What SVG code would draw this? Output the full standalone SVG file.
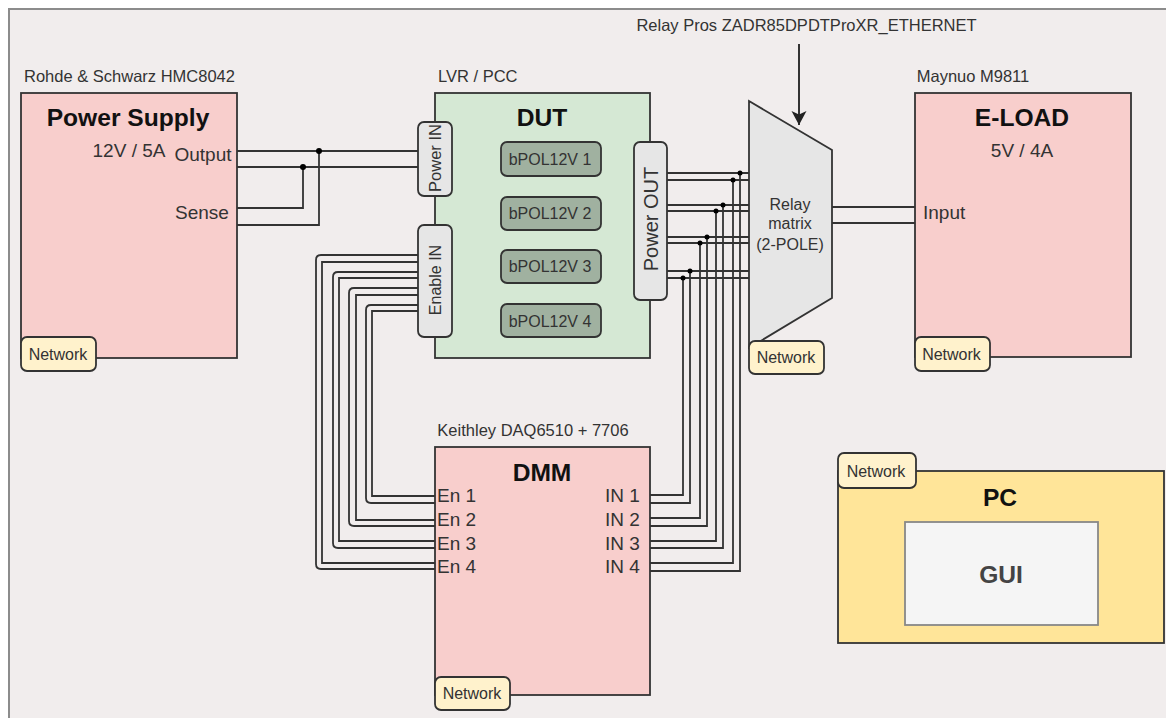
<svg xmlns="http://www.w3.org/2000/svg" width="1166" height="718" viewBox="0 0 1166 718">
<style>
text{font-family:"Liberation Sans",Arial,sans-serif;fill:#333;text-anchor:middle}
.box{stroke:#333;stroke-width:1.8}
.pink{fill:#f8cecc}
.port{fill:#e6e6e6;stroke:#333;stroke-width:1.8}
.net{fill:#fff2cc;stroke:#333;stroke-width:1.8}
.pol{fill:#a0b1a0;stroke:#333;stroke-width:1.8}
.w{fill:none;stroke:#333;stroke-width:1.8}
.d{fill:#000;stroke:none}
.t14{font-size:16.5px}
.n{font-size:16px}
.t15{font-size:19px}
.h{font-size:24.6px;font-weight:bold;fill:#111}
.l{text-anchor:start}
</style>
<defs><marker id="arr" markerWidth="16" markerHeight="16" refX="14" refY="7.5" orient="auto" markerUnits="userSpaceOnUse"><path d="M0 0L14 7.5L0 15L3.5 7.5Z" fill="#222"/></marker></defs>
<rect x="9" y="9" width="1170" height="720" fill="#f1eded" stroke="#8c8c8c" stroke-width="2"/>

<g id="connectors">
<path class="w" d="M237 151H418M237 167H418M237 208H303V167M237 225H319V151"/>
<circle class="d" cx="319" cy="151" r="3"/><circle class="d" cx="303" cy="167" r="3"/>
<path class="w" d="M418 255H321Q316 255 316 260V564Q316 569 321 569H435M418 262H322V563H435M418 272H338Q333 272 333 277V543Q333 548 338 548H435M418 278H339V541H435M418 288H354Q349 288 349 293V521Q349 526 354 526H435M418 295H356V520H435M418 305H371Q366 305 366 310V498Q366 503 371 503H435M418 311H372V496H435"/>
<path class="w" d="M667 173H749M667 180H749M667 205H749M667 211H749M667 237H749M667 243H749M667 271H749M667 278H749"/>
<path class="w" d="M650 495H683V278M650 503H690V271M650 518H700V243M650 526H707V237M650 541H716V211M650 548H723V205M650 563H733V180M650 571H740V173"/>
<g class="dots"><circle class="d" cx="740" cy="173" r="2.5"/><circle class="d" cx="733" cy="180" r="2.5"/><circle class="d" cx="723" cy="205" r="2.5"/><circle class="d" cx="716" cy="211" r="2.5"/><circle class="d" cx="707" cy="237" r="2.5"/><circle class="d" cx="700" cy="243" r="2.5"/><circle class="d" cx="690" cy="271" r="2.5"/><circle class="d" cx="683" cy="278" r="2.5"/></g>
<path class="w" d="M832 207H915M832 223H915"/>
</g>

<g id="power-supply">
<text class="t14" x="129.5" y="82">Rohde &amp; Schwarz HMC8042</text>
<rect class="box pink" x="21" y="93" width="216" height="265"/>
<text class="h" x="128" y="126">Power Supply</text>
<text class="t15" x="129" y="157">12V / 5A</text>
<text class="t15" x="203" y="161">Output</text>
<text class="t15" x="202" y="219">Sense</text>
<rect class="net" x="21" y="337" width="75" height="34" rx="6"/>
<text class="n" x="58" y="360">Network</text>
</g>

<g id="dut">
<text class="t14 l" x="438" y="82">LVR / PCC</text>
<rect class="box" fill="#d5e8d4" x="435" y="93" width="215" height="265"/>
<text class="h" x="542" y="126">DUT</text>
<rect class="pol" x="501" y="142" width="100" height="34" rx="6"/><text class="n" x="550" y="165">bPOL12V 1</text>
<rect class="pol" x="501" y="197" width="100" height="33" rx="6"/><text class="n" x="550" y="219">bPOL12V 2</text>
<rect class="pol" x="501" y="250" width="100" height="33" rx="6"/><text class="n" x="550" y="272">bPOL12V 3</text>
<rect class="pol" x="501" y="304" width="100" height="33" rx="6"/><text class="n" x="550" y="327">bPOL12V 4</text>
<rect class="port" x="418" y="122" width="34" height="74" rx="6"/>
<text class="t14" transform="translate(441 158) rotate(-90)">Power IN</text>
<rect class="port" x="418" y="225" width="34" height="112" rx="6"/>
<text class="n" transform="translate(441 280) rotate(-90)">Enable IN</text>
<rect class="port" x="634" y="142" width="33" height="158" rx="6"/>
<text transform="translate(658 219) rotate(-90)" style="font-size:20px">Power OUT</text>
</g>

<g id="relay">
<text class="t14" x="806.5" y="31">Relay Pros ZADR85DPDTProXR_ETHERNET</text>
<path d="M799 44V125" class="w" style="stroke-width:2" marker-end="url(#arr)"/>
<path class="box" fill="#e6e6e6" d="M749 101L832 150V298L749 348Z"/>
<text class="n" x="790" y="210">Relay</text>
<text class="n" x="790" y="229">matrix</text>
<text class="n" x="790" y="250">(2-POLE)</text>
<rect class="net" x="749" y="341" width="75" height="33" rx="6"/>
<text class="n" x="786" y="363">Network</text>
</g>

<g id="e-load">
<text class="t14" x="973" y="82">Maynuo M9811</text>
<rect class="box pink" x="915" y="93" width="216" height="264"/>
<text class="h" x="1022" y="126">E-LOAD</text>
<text class="t15" x="1022" y="157">5V / 4A</text>
<text class="t15 l" x="923" y="219">Input</text>
<rect class="net" x="915" y="337" width="75" height="34" rx="6"/>
<text class="n" x="951.5" y="360">Network</text>
</g>

<g id="dmm">
<text class="t14" x="533" y="436">Keithley DAQ6510 + 7706</text>
<rect class="box pink" x="435" y="447" width="215" height="248"/>
<text class="h" x="542" y="481">DMM</text>
<text class="t15 l" x="437" y="502">En 1</text><text class="t15 l" x="437" y="526">En 2</text><text class="t15 l" x="437" y="550">En 3</text><text class="t15 l" x="437" y="573">En 4</text>
<text class="t15 l" x="605" y="502">IN 1</text><text class="t15 l" x="605" y="526">IN 2</text><text class="t15 l" x="605" y="550">IN 3</text><text class="t15 l" x="605" y="573">IN 4</text>
<rect class="net" x="435" y="677" width="75" height="33" rx="6"/>
<text class="n" x="472" y="699">Network</text>
</g>

<g id="pc">
<rect class="box" fill="#ffe599" x="838" y="471" width="326" height="172"/>
<text class="h" x="1000" y="506">PC</text>
<rect x="905" y="522" width="193" height="103" fill="#f5f5f5" stroke="#888" stroke-width="1.8"/>
<text class="h" x="1001" y="583" style="fill:#444">GUI</text>
<rect class="net" x="838" y="453" width="78" height="35" rx="6"/>
<text class="n" x="876" y="477">Network</text>
</g>
</svg>
